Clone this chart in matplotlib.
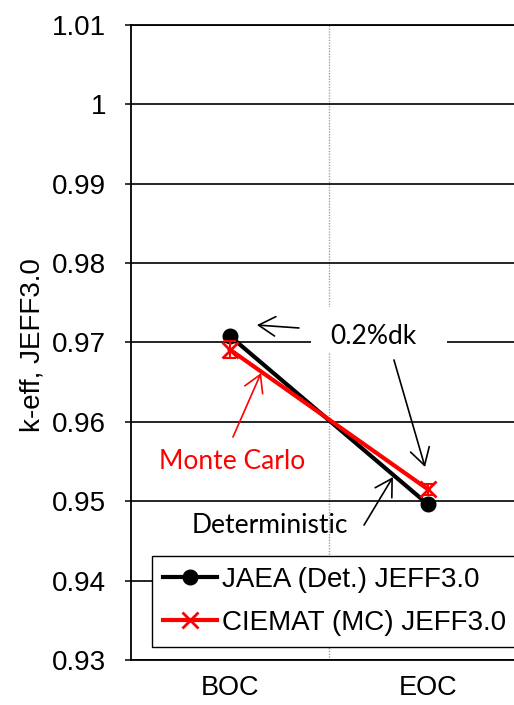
import matplotlib
matplotlib.use("Agg")
import matplotlib.pyplot as plt
from matplotlib.patches import Rectangle
from matplotlib.ticker import FuncFormatter, MultipleLocator

# k-eff values
steps = ["BOC", "EOC"]
jaea_keff = [0.9708, 0.9496]
ciemat_keff = [0.9691, 0.9515]
ciemat_err = [0.0011, 0.0007]

plt.rcParams['font.family'] = ['Liberation Sans', 'DejaVu Sans']

fig = plt.figure(figsize=(5.14, 7.05), dpi=100)
ax = fig.add_axes([131 / 514, 45 / 705, 396 / 514, 635 / 705])

xpos = [0.5, 1.5]

ax.plot(xpos, jaea_keff, color='black', lw=3, marker='o', markersize=10.5,
        label='JAEA (Det.) JEFF3.0', zorder=3)
ax.errorbar(xpos, ciemat_keff, yerr=ciemat_err, fmt='none', ecolor='red',
            elinewidth=1.5, capsize=4, capthick=1.5, zorder=4)
ax.plot(xpos, ciemat_keff, color='red', lw=3, marker='x', markersize=11,
        markeredgewidth=2, label='CIEMAT (MC) JEFF3.0', zorder=4)

ax.set_xlim(0, 2)
ax.set_ylim(0.93, 1.01)
ax.yaxis.set_major_locator(MultipleLocator(0.01))
ax.yaxis.set_major_formatter(FuncFormatter(lambda v, p: f"{v:.2f}".rstrip('0').rstrip('.')))
ax.grid(axis='y', color='black', lw=1.2, zorder=1)

ax.set_xticks([1])
ax.set_xticklabels([''])
ax.set_xticks(xpos, minor=True)
ax.set_xticklabels(steps, minor=True)
ax.tick_params(axis='x', which='both', length=0, labelsize=19.5, pad=11)
ax.grid(axis='x', which='major', color='#a0a0a0', lw=1, linestyle=(0, (1, 1)), zorder=1)
ax.tick_params(axis='y', direction='out', length=4, width=1.1, labelsize=20, pad=14)

for s in ['left', 'bottom', 'top', 'right']:
    ax.spines[s].set_linewidth(1.3)

ax.set_ylabel("k-eff, JEFF3.0", fontsize=20)
ax.yaxis.set_label_coords(-0.215, 0.496)

arrow_kw = dict(arrowstyle='->, head_length=0.6, head_width=0.35', lw=1.2,
                mutation_scale=20, shrinkA=0, shrinkB=0)
ann_font = ['Lato', 'DejaVu Sans']

# white box behind the 0.2%dk label, hides the grid like the original
ax.add_patch(Rectangle((0.909, 0.9688), 0.687, 0.00567, facecolor='white',
                       edgecolor='none', zorder=2))
ax.text(1.222, 0.9707, "0.2%dk", fontsize=19, family=ann_font, ha='center', va='center',
        zorder=5)
ax.annotate('', xy=(0.636, 0.9722), xytext=(0.848, 0.97183),
            arrowprops=dict(color='black', **arrow_kw), zorder=5)
ax.annotate('', xy=(1.485, 0.95432), xytext=(1.328, 0.9678),
            arrowprops=dict(color='black', **arrow_kw), zorder=5)

ax.text(0.51, 0.95507, "Monte Carlo", fontsize=19, family=ann_font, color='red',
        ha='center', va='center', zorder=5)
ax.annotate('', xy=(0.657, 0.96616), xytext=(0.515, 0.95809),
            arrowprops=dict(color='red', **arrow_kw), zorder=5)

ax.text(0.702, 0.9470, "Deterministic", fontsize=19, family=ann_font, color='black',
        ha='center', va='center', zorder=5)
ax.annotate('', xy=(1.323, 0.95305), xytext=(1.177, 0.9470),
            arrowprops=dict(color='black', **arrow_kw), zorder=5)

leg = ax.legend(loc='lower left', bbox_to_anchor=(152 / 514, 58 / 705),
                bbox_transform=fig.transFigure, fontsize=20, frameon=True,
                fancybox=False, edgecolor='black', framealpha=1,
                handlelength=1.95, handletextpad=0.18, borderpad=0.4,
                labelspacing=0.62, borderaxespad=0)
leg.get_frame().set_linewidth(1.0)
leg.set_zorder(6)

fig.savefig("out.png", dpi=100)
